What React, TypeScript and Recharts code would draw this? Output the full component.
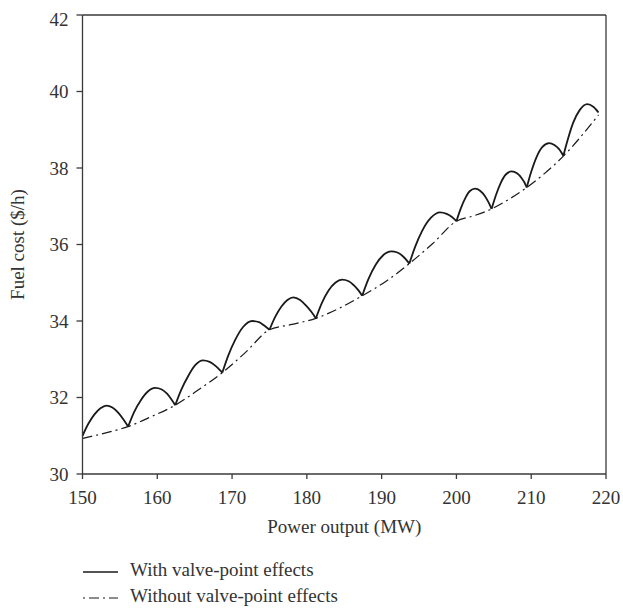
import React from 'react';
import { LineChart, Line, XAxis, YAxis, ReferenceLine } from 'recharts';

const xTicks = [150, 160, 170, 180, 190, 200, 210, 220];
const yTicks = [30, 32, 34, 36, 38, 40, 42];

// With valve-point effects: one arch between each pair of valve points
const arch1 = [[150.0, 31.0], [150.8, 31.32], [151.6, 31.56], [152.4, 31.72], [153.2, 31.79], [154.0, 31.74], [154.8, 31.6], [155.5, 31.42], [156.1, 31.24]];
const arch2 = [[156.1, 31.24], [156.9, 31.62], [157.8, 31.93], [158.7, 32.15], [159.7, 32.25], [160.6, 32.21], [161.3, 32.1], [161.9, 31.95], [162.4, 31.8]];
const arch3 = [[162.4, 31.8], [163.2, 32.2], [164.1, 32.55], [165.1, 32.85], [166.1, 32.97], [167.0, 32.93], [167.7, 32.84], [168.2, 32.75], [168.7, 32.65]];
const arch4 = [[168.7, 32.65], [169.5, 33.1], [170.4, 33.5], [171.5, 33.85], [172.7, 34.0], [173.6, 33.97], [174.3, 33.88], [175.0, 33.77]];
const arch5 = [[175.0, 33.77], [175.8, 34.12], [176.6, 34.38], [177.4, 34.55], [178.2, 34.62], [179.1, 34.55], [179.9, 34.4], [180.6, 34.24], [181.2, 34.07]];
const arch6 = [[181.2, 34.07], [182.0, 34.47], [182.9, 34.8], [183.8, 35.0], [184.7, 35.08], [185.6, 35.04], [186.3, 34.93], [186.9, 34.8], [187.4, 34.66]];
const arch7 = [[187.4, 34.66], [188.2, 35.08], [189.2, 35.47], [190.2, 35.72], [191.3, 35.82], [192.1, 35.79], [192.8, 35.7], [193.3, 35.6], [193.7, 35.5]];
const arch8 = [[193.7, 35.5], [194.5, 35.95], [195.4, 36.35], [196.6, 36.7], [197.8, 36.84], [198.7, 36.8], [199.4, 36.72], [200.0, 36.61]];
const arch9 = [[200.0, 36.61], [200.6, 36.95], [201.2, 37.22], [201.8, 37.4], [202.5, 37.46], [203.2, 37.4], [203.8, 37.27], [204.3, 37.1], [204.7, 36.93]];
const arch10 = [[204.7, 36.93], [205.3, 37.3], [205.9, 37.6], [206.6, 37.83], [207.4, 37.91], [208.1, 37.86], [208.7, 37.74], [209.1, 37.62], [209.4, 37.49]];
const arch11 = [[209.4, 37.49], [210.0, 37.9], [210.7, 38.28], [211.5, 38.55], [212.4, 38.65], [213.1, 38.6], [213.7, 38.5], [214.3, 38.32]];
const arch12 = [[214.3, 38.32], [214.9, 38.75], [215.6, 39.18], [216.5, 39.52], [217.5, 39.67], [218.3, 39.6], [219.0, 39.45]];
const withValveArches = [arch1, arch2, arch3, arch4, arch5, arch6, arch7, arch8, arch9, arch10, arch11, arch12];

// Without valve-point effects
const withoutValve = [
  [150.0, 30.93], [153.0, 31.07], [156.1, 31.24], [159.2, 31.5], [162.4, 31.8], [165.5, 32.2],
  [168.7, 32.65], [171.8, 33.18], [175.0, 33.77], [178.0, 33.91], [181.2, 34.07], [184.3, 34.33],
  [187.4, 34.66], [190.6, 35.04], [193.7, 35.5], [196.8, 36.02], [200.0, 36.61], [202.3, 36.75],
  [204.7, 36.93], [207.0, 37.18], [209.4, 37.49], [211.8, 37.86], [214.3, 38.31], [216.6, 38.81],
  [219.0, 39.39],
];

const legendItems = ['With valve-point effects', 'Without valve-point effects'];

const toPts = (arr: number[][]) => arr.map(([p, c]) => ({ p, c }));

const FONT = '"Liberation Serif", "DejaVu Serif", serif';
const AXIS = '#3a3a3a';
const INK = '#1a1a1a';
const tickStyle = { fontFamily: FONT, fontSize: 19, fill: '#333' };

export default function App() {
  return (
    <div style={{ position: 'relative', width: 615, height: 598, fontFamily: FONT }}>
      <style>{`body{margin-right:0}.recharts-surface{overflow:visible}`}</style>
      <LineChart
        width={615}
        height={598}
        margin={{ top: 7, right: 17, left: 0, bottom: 62 }}
      >
        <XAxis
          dataKey="p"
          type="number"
          domain={[150, 220]}
          ticks={xTicks}
          allowDuplicatedCategory={false}
          height={70}
          stroke={AXIS}
          strokeWidth={1.3}
          tickSize={5}
          tickMargin={12}
          tick={tickStyle}
          label={{ value: 'Power output (MW)', position: 'insideBottom', offset: 11, style: tickStyle }}
        />
        <YAxis
          dataKey="c"
          type="number"
          domain={[30, 42]}
          ticks={yTicks}
          width={74.5}
          stroke={AXIS}
          strokeWidth={1.3}
          tickSize={6}
          tickMargin={8}
          tick={tickStyle}
          label={{ value: 'Fuel cost ($/h)', angle: -90, position: 'insideLeft', offset: 9, style: { ...tickStyle, textAnchor: 'middle' } }}
        />
        <ReferenceLine y={42} stroke={AXIS} strokeWidth={1.3} />
        <ReferenceLine x={220} stroke={AXIS} strokeWidth={1.3} />
        <Line
          data={toPts(withoutValve)}
          dataKey="c"
          type="monotone"
          stroke={INK}
          strokeWidth={1.2}
          strokeDasharray="10 4 2 4"
          dot={false}
          isAnimationActive={false}
        />
        {withValveArches.map((arch, i) => (
          <Line
            key={i}
            data={toPts(arch)}
            dataKey="c"
            type="monotone"
            stroke={INK}
            strokeWidth={1.8}
            dot={false}
            isAnimationActive={false}
          />
        ))}
      </LineChart>
      <svg width={400} height={58} style={{ position: 'absolute', left: 0, top: 540 }}>
        <line x1={75} y1={24} x2={110} y2={24} stroke={INK} strokeWidth={1.4} />
        <text x={122} y={24} dominantBaseline="middle" style={tickStyle}>{legendItems[0]}</text>
        <line x1={75} y1={50} x2={110} y2={50} stroke={INK} strokeWidth={1.2} strokeDasharray="2 4 10 4" />
        <text x={122} y={50} dominantBaseline="middle" style={tickStyle}>{legendItems[1]}</text>
      </svg>
    </div>
  );
}
